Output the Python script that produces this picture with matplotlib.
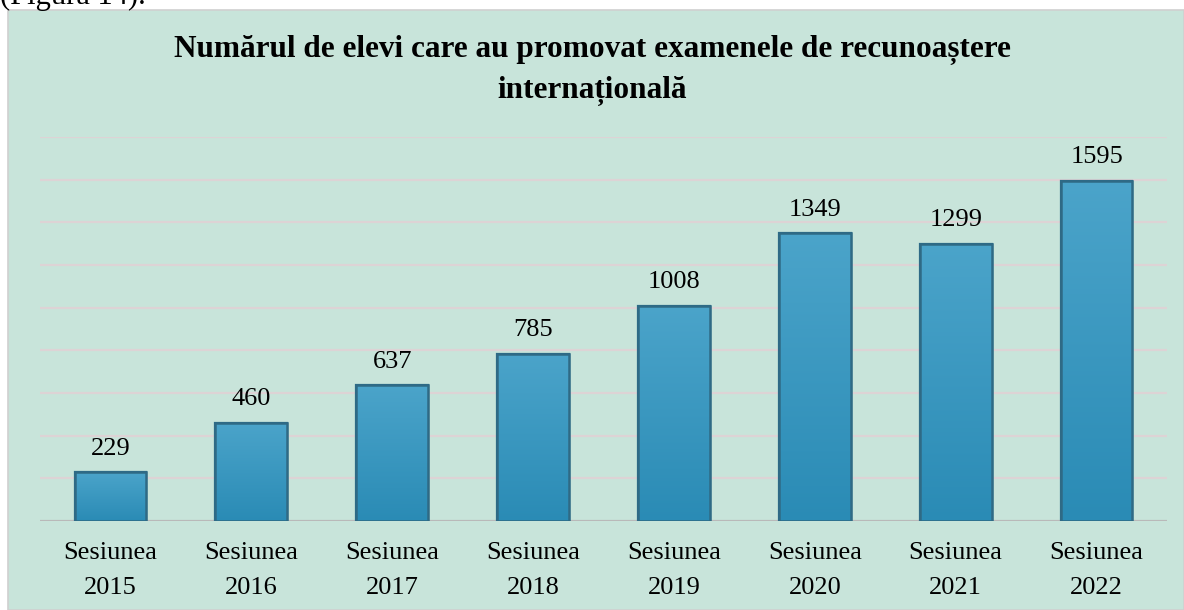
import matplotlib.pyplot as plt
import numpy as np
from matplotlib.patches import Rectangle

# data
sessions = ["Sesiunea\n2015", "Sesiunea\n2016", "Sesiunea\n2017", "Sesiunea\n2018",
            "Sesiunea\n2019", "Sesiunea\n2020", "Sesiunea\n2021", "Sesiunea\n2022"]
students = [229, 460, 637, 785, 1008, 1349, 1299, 1595]
title = "Numărul de elevi care au promovat examenele de recunoaștere\ninternațională"

plt.rcParams["font.family"] = ["Liberation Serif", "DejaVu Serif"]

W, H = 1184, 610
fig = plt.figure(figsize=(W / 100, H / 100), dpi=100)
fig.patch.set_facecolor("white")

# green panel behind the chart
panel = Rectangle((8 / W, 0), 1 - 8 / W, 1 - 10 / H, transform=fig.transFigure,
                  facecolor="#c8e4da", edgecolor="#d0d0d0", lw=1.2, zorder=-5)
fig.patches.append(panel)

# caption cut off at the top of the page
fig.text(0.0, 1 - 4 / H, "(Figura 14).", fontsize=22, va="baseline", ha="left")

ax = fig.add_axes([40 / W, 1 - 521 / H, (1167 - 40) / W, (521 - 137) / H])
ax.set_facecolor("none")
ax.set_zorder(2)

x = np.arange(len(students))

# gridlines
for g in range(200, 1801, 200):
    ax.axhline(g, color="#ddd3d5", lw=1.6, zorder=1)
ax.axhline(0, color="#b9b9b9", lw=1.6, zorder=1)

bars = ax.bar(x, students, width=0.51, color="#3399c4", edgecolor="#2b6e8c",
              lw=1.6, zorder=3)

# soft vertical gradient inside each bar
grad = np.linspace(1, 0, 256).reshape(-1, 1)
cmap = plt.matplotlib.colors.LinearSegmentedColormap.from_list(
    "bar", ["#2a8bb5", "#4ba4ca"])
for b in bars:
    x0, w, h = b.get_x(), b.get_width(), b.get_height()
    im = ax.imshow(grad, extent=(x0, x0 + w, 0, h), aspect="auto", cmap=cmap,
                   zorder=3, origin="upper")
    im.set_clip_path(b)
    ax.add_patch(Rectangle((x0, 0), w, h, fill=False, edgecolor="#2f6a85",
                           lw=1.8, zorder=4))

ax.set_xlim(-0.5, len(students) - 0.5)
ax.set_ylim(0, 1800)

for xi, v in zip(x, students):
    ax.annotate(str(v), (xi, v), xytext=(0, 9), textcoords="offset points",
                ha="center", va="bottom", fontsize=19)

ax.set_xticks(x)
ax.set_xticklabels(sessions, fontsize=19, linespacing=1.75)
ax.tick_params(axis="x", length=0, pad=15)
ax.set_yticks([])
for s in ax.spines.values():
    s.set_visible(False)

fig.text(0.5, 1 - 35 / H, title, ha="center", va="top", fontsize=22.5,
         fontweight="bold", linespacing=1.5)

fig.savefig("out.png", dpi=100)
